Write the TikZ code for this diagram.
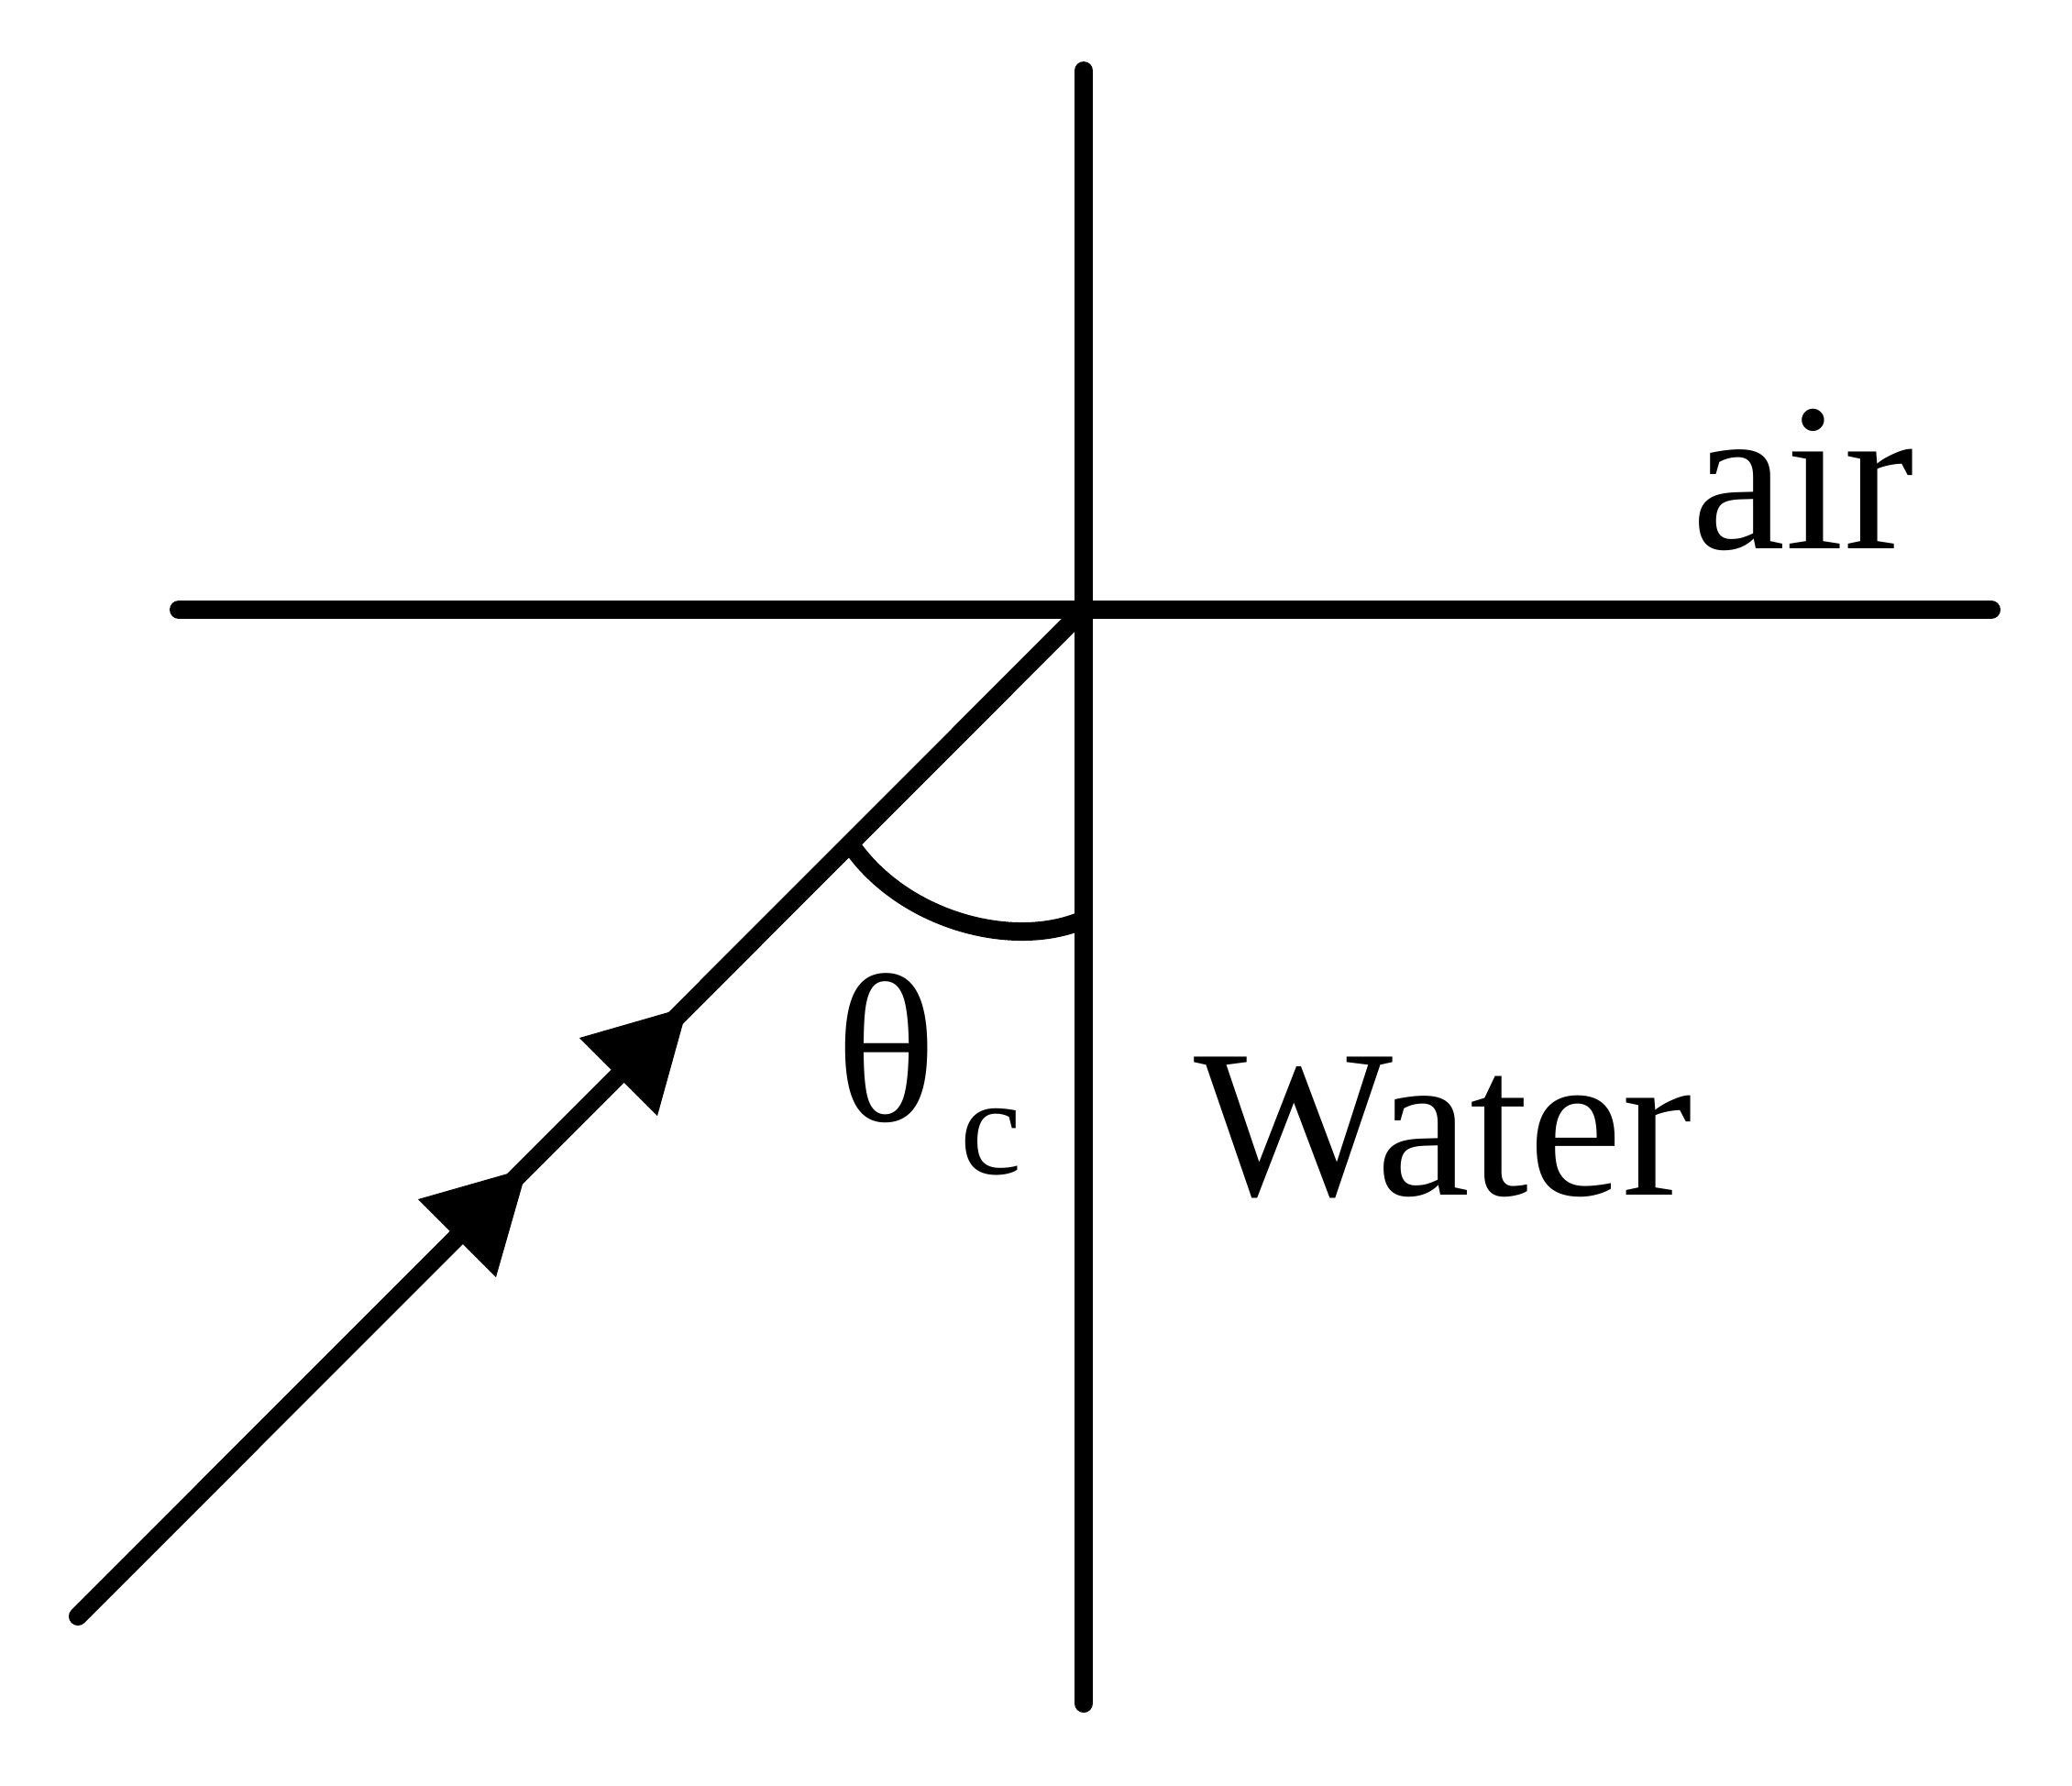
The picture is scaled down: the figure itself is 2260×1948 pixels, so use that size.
\documentclass[tikz,border=0pt]{standalone}
\usepackage{fontspec}
\setmainfont{Liberation Serif}
\begin{document}
\begin{tikzpicture}[x=0.01cm,y=-0.01cm,
  ln/.style={line width=5.69pt,line cap=round},
  tip/.style={fill=black,draw=none},
  big/.style={font=\fontsize{65.4pt}{70pt}\selectfont,inner sep=0pt,anchor=base west},
  small/.style={font=\fontsize{43pt}{48pt}\selectfont,inner sep=0pt,anchor=base west}]
\useasboundingbox (0,0) rectangle (2260,1948);
\coordinate (O) at (1182,665);
\coordinate (vtop) at (1182,77);
\coordinate (vbot) at (1182,1858);
\coordinate (hl) at (195,665);
\coordinate (hr) at (2172,665);
\coordinate (rs) at (85,1763);
\draw[ln] (vtop) -- (vbot);
\draw[ln] (hl) -- (hr);
\draw[ln] (rs) -- (O);
% arrowheads
\coordinate (t1) at (750,1098);
\coordinate (b1a) at (632,1132);
\coordinate (b1b) at (717,1217);
\coordinate (t2) at (575,1274);
\coordinate (b2a) at (456,1308);
\coordinate (b2b) at (541,1393);
\fill[tip] (t1) -- (b1a) -- (b1b) -- cycle;
\fill[tip] (t2) -- (b2a) -- (b2b) -- cycle;
% angle arc
\coordinate (a0) at (932,927);
\coordinate (a3) at (1180,1004);
\draw[line width=5.69pt] (a0) .. controls (990,1005) and (1105,1035) .. (a3);
% labels
\node[big] (air) at (1845,598) {air};
\node[big] (water) at (1302,1303) {Water};
\node[big] (theta) at (911,1222) {θ};
\node[small] (sub) at (1047,1280) {c};
\end{tikzpicture}
\end{document}
